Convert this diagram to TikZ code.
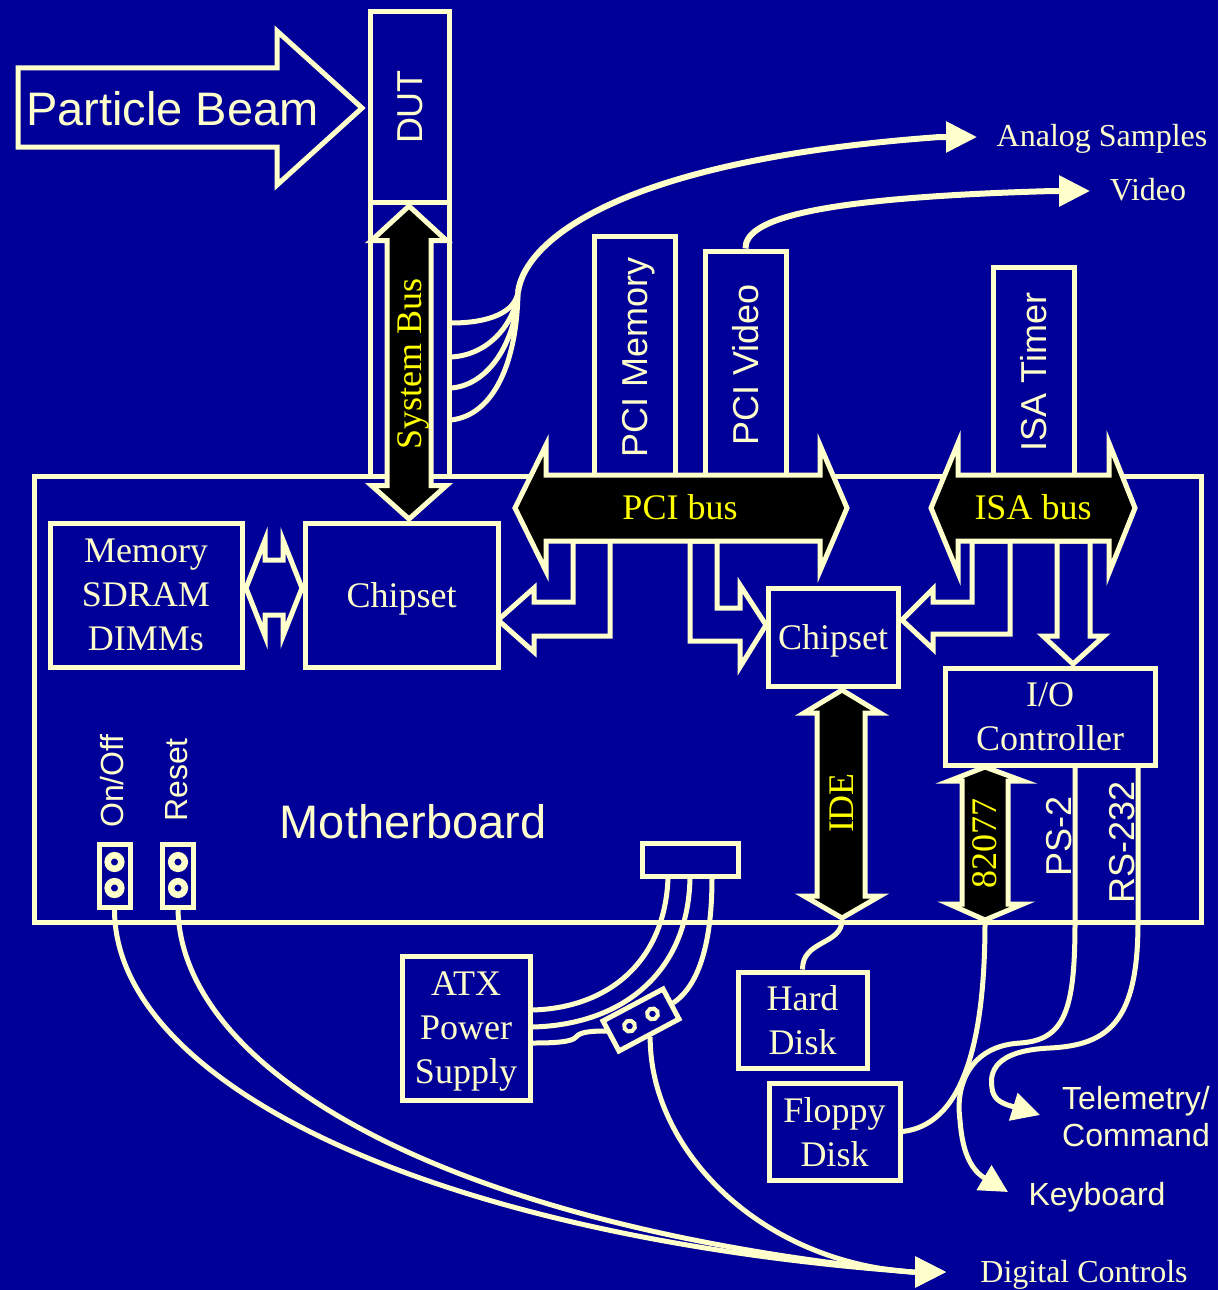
\documentclass[tikz,border=0pt]{standalone}
\usepackage{fontspec}
\setmainfont{Liberation Serif}
\newfontfamily\sansfam{Liberation Sans}
\usetikzlibrary{arrows.meta}
\definecolor{bg}{RGB}{0,0,153}
\definecolor{cream}{RGB}{255,255,204}
\definecolor{ylw}{RGB}{255,255,0}
\newcommand\fsA{\fontsize{36}{44}\selectfont}
\newcommand\fsB{\fontsize{32}{37}\selectfont}
\newcommand\fsC{\sansfam\fontsize{36}{42}\selectfont}
\newcommand\fsD{\sansfam\fontsize{32}{37}\selectfont}
\newcommand\fsE{\sansfam\fontsize{47}{54}\selectfont}
\begin{document}
\begin{tikzpicture}[x=1pt,y=-1pt,
  ln/.style={draw=cream,line width=5pt,line join=miter},
  box/.style={ln,fill=bg,text=cream,inner sep=0pt,align=center,font=\fsA,text depth=0pt},
  plainbox/.style={ln,fill=bg,inner sep=0pt},
  busshape/.style={ln,fill=black},
  hollow/.style={ln,fill=bg},
  wire/.style={draw=cream,line width=5pt},
  thickwire/.style={draw=cream,line width=6pt},
  bighead/.style={-{Triangle[length=31pt,width=30pt]}},
  smallhead/.style={-{Triangle[length=28pt,width=28pt]}},
  lbl/.style={text=cream,inner sep=0pt},
  buslbl/.style={text=ylw,inner sep=0pt,font=\fsA},
  ring/.style={draw=cream,line width=6.5pt},
  smallring/.style={draw=cream,line width=4pt}
]
% background
\fill[bg] (0,0) rectangle (1218,1290);
\useasboundingbox (0,0) rectangle (1218,1290);

% motherboard
\node[plainbox,minimum width=1167,minimum height=446] (mb) at (617.5,699) {};
\node[lbl,font=\fsE,anchor=base] (mbl) at (413,838) {Motherboard};

% particle beam
\draw[hollow] (18,68) -- (277,68) -- (277,31) -- (362,108) -- (277,185) -- (277,147) -- (18,147) -- cycle;
\node[lbl,font=\fsE,anchor=base] (pbl) at (172.5,125) {Particle Beam};

% DUT and system bus frame
\node[plainbox,minimum width=79,minimum height=190] (dut) at (409.5,107) {};
\node[lbl,font=\fsC,rotate=90,anchor=base] (dutl) at (422.5,107) {DUT};
\node[plainbox,minimum width=79,minimum height=274] (sbbox) at (409.5,339) {};

% cards
\node[plainbox,minimum width=81,minimum height=240] (pcimem) at (634.5,356) {};
\node[lbl,font=\fsC,rotate=90,anchor=base] (pcimeml) at (647.5,357) {PCI Memory};
\node[plainbox,minimum width=81,minimum height=225] (pcivid) at (745.5,363.5) {};
\node[lbl,font=\fsC,rotate=90,anchor=base] (pcividl) at (758.5,365) {PCI Video};
\node[plainbox,minimum width=81,minimum height=209] (isatim) at (1033.5,371.5) {};
\node[lbl,font=\fsC,rotate=90,anchor=base] (isatiml) at (1046.5,372) {ISA Timer};

% analog sample wires
\coordinate (w1) at (451,323);
\coordinate (w2) at (451,357);
\coordinate (w3) at (451,388);
\coordinate (w4) at (451,420);
\coordinate (merge) at (518,292);
\coordinate (asB) at (940,137);
\coordinate (asT) at (977,137);
\draw[wire] (w1) .. controls (490,323) and (515,312) .. (merge);
\draw[wire] (w2) .. controls (490,355) and (515,322) .. (merge);
\draw[wire] (w3) .. controls (490,385) and (516,340) .. (merge);
\draw[wire] (w4) .. controls (495,415) and (517,360) .. (merge);
\draw[thickwire,bighead] (merge) .. controls (525,240) and (620,160) .. (asB) -- (asT);
\node[lbl,font=\fsB,anchor=base] (asl) at (1102,146) {Analog Samples};

% video
\coordinate (vB) at (1053,191);
\coordinate (vT) at (1090,191);
\draw[thickwire,bighead] (pcivid.north) .. controls (745,222) and (800,198) .. (vB) -- (vT);
\node[lbl,font=\fsB,anchor=base] (vidl) at (1148,200) {Video};

% bus stubs
\draw[hollow] (573,541) -- (573,602) -- (534,602) -- (534,588) -- (498,620) -- (534,652) -- (534,636) -- (610,636) -- (610,541) -- cycle;
\draw[hollow] (690,541) -- (690,641) -- (740,641) -- (740,667) -- (766,625) -- (740,585) -- (740,608) -- (717,608) -- (717,541) -- cycle;
\draw[hollow] (972,541) -- (972,602) -- (933,602) -- (933,589) -- (902,620) -- (933,649) -- (933,634) -- (1010,634) -- (1010,541) -- cycle;
\draw[hollow] (1057,541) -- (1057,636) -- (1043,636) -- (1073,664) -- (1104,636) -- (1090,636) -- (1090,541) -- cycle;

% PCI bus
\draw[busshape] (515,508) -- (546,445) -- (546,475) -- (820,475) -- (820,445) -- (847,508) -- (820,571) -- (820,541) -- (546,541) -- (546,571) -- cycle;
\node[buslbl,anchor=base] (pcil) at (680,519) {PCI bus};
% ISA bus
\draw[busshape] (931,508) -- (958,443) -- (958,475) -- (1109,475) -- (1109,443) -- (1135,508) -- (1109,573) -- (1109,541) -- (958,541) -- (958,573) -- cycle;
\node[buslbl,anchor=base] (isal) at (1033,519) {ISA bus};

% system bus arrow
\draw[busshape] (409,206) -- (446.5,240.5) -- (431,240.5) -- (431,485.5) -- (446.5,485.5) -- (409,519) -- (371.5,485.5) -- (387,485.5) -- (387,240.5) -- (371.5,240.5) -- cycle;
\node[buslbl,rotate=90,anchor=base] (sbl) at (421,364) {System Bus};

% memory, chipsets, io
\node[box,minimum width=192,minimum height=144] (mem) at (146,595) {Memory\\SDRAM\\DIMMs};
\node[box,minimum width=193,minimum height=144] (cs1) at (401.5,595) {Chipset};
\node[box,minimum width=130,minimum height=98] (cs2) at (833,637) {Chipset};
\node[box,minimum width=210,minimum height=97] (io) at (1050,716.5) {I/O\\Controller};

% memory <-> chipset hollow arrow
\draw[hollow] (246,588) -- (265,540) -- (265,560) -- (283,560) -- (283,540) -- (302,588) -- (283,636) -- (283,615) -- (265,615) -- (265,636) -- cycle;

% IDE arrow
\draw[busshape] (842,690) -- (880,713) -- (865,713) -- (865,896) -- (880,896) -- (842,918) -- (804,896) -- (817,896) -- (817,713) -- (804,713) -- cycle;
\node[buslbl,rotate=90,anchor=base] (idel) at (853,803) {IDE};

% 82077 arrow
\draw[busshape] (985,767) -- (1023,781) -- (1008,781) -- (1008,904) -- (1023,904) -- (985,920) -- (949,904) -- (962,904) -- (962,781) -- (949,781) -- cycle;
\node[buslbl,rotate=90,anchor=base] (fdcl) at (996,843) {82077};

% PS-2 and RS-232 labels
\node[lbl,font=\fsC,rotate=90,anchor=base] (ps2l) at (1071,836) {PS-2};
\node[lbl,font=\fsC,rotate=90,anchor=base] (rsl) at (1134,842) {RS-232};

% On/Off and Reset
\node[plainbox,minimum width=31,minimum height=63] (onoff) at (114.5,876) {};
\node[plainbox,minimum width=31,minimum height=63] (reset) at (178,876) {};
\draw[ring] (114.5,862) circle[radius=6.8pt];
\draw[ring] (114.5,888) circle[radius=6.8pt];
\draw[ring] (178,862) circle[radius=6.8pt];
\draw[ring] (178,888) circle[radius=6.8pt];
\node[lbl,font=\fsD,rotate=90,anchor=base] (onoffl) at (123,781) {On/Off};
\node[lbl,font=\fsD,rotate=90,anchor=base] (resetl) at (187,780) {Reset};

% power connector
\node[plainbox,minimum width=96,minimum height=33] (tc) at (690,859.5) {};

% ATX, disks
\node[box,minimum width=128,minimum height=144] (atx) at (466,1028) {ATX\\Power\\Supply};
\node[box,minimum width=129,minimum height=96] (hd) at (802.5,1020) {Hard\\Disk};
\node[box,minimum width=131,minimum height=97] (fd) at (834.5,1131.5) {Floppy\\Disk};

% small rotated switch connector
\node[plainbox,minimum width=68,minimum height=34,rotate=28] (conn) at (641,1020) {};
\begin{scope}[shift={(641,1020)},rotate=28]
  \draw[smallring] (-13,0) circle[radius=5.5pt];
  \draw[smallring] (13,0) circle[radius=5.5pt];
\end{scope}

% power wires
\coordinate (t1) at (668,878);
\coordinate (t2) at (690,878);
\coordinate (t3) at (712,878);
\coordinate (a1) at (532,1010);
\coordinate (a2) at (532,1027);
\coordinate (a3) at (532,1043);
\coordinate (cin) at (607,1031);
\draw[wire] (t1) .. controls (665,960) and (610,1008) .. (a1);
\draw[wire] (t2) .. controls (688,975) and (620,1025) .. (a2);
\draw[wire] (t3) .. controls (712,940) and (700,985) .. (conn.east);
\draw[wire] (a3) .. controls (555,1043) and (572,1042) .. (576,1037) .. controls (580,1032) and (590,1031) .. (cin);

% digital controls
\coordinate (dcB) at (912,1272);
\coordinate (dcT) at (946,1272);
\draw[wire,bighead] (onoff.south) .. controls (115,1080) and (420,1235) .. (dcB) -- (dcT);
\draw[wire,bighead] (reset.south) .. controls (182,1070) and (440,1225) .. (dcB) -- (dcT);
\draw[wire,bighead] (conn.south) .. controls (650,1150) and (760,1262) .. (dcB) -- (dcT);
\node[lbl,font=\fsB,anchor=base] (dcl) at (1084,1282) {Digital Controls};

% IDE to hard disk
\coordinate (ideB) at (842,920);
\draw[wire] (ideB) .. controls (842,945) and (802,940) .. (hd.north);

% 82077 to floppy
\coordinate (fdcB) at (985,922);
\draw[wire] (fdcB) .. controls (985,1050) and (960,1125) .. (fd.east);

% PS-2 to keyboard
\coordinate (ps2top) at (1075,767);
\coordinate (kbB) at (983,1177);
\coordinate (kbT) at (1008,1192);
\draw[wire,smallhead] (ps2top) -- (1075,922) .. controls (1075,1010) and (1065,1040) .. (1020,1043) .. controls (970,1046) and (955,1085) .. (960,1120) .. controls (962,1150) and (970,1168) .. (kbB) -- (kbT);
\node[lbl,font=\fsD,anchor=base] (kbl) at (1097,1205) {Keyboard};

% RS-232 to telemetry
\coordinate (rstop) at (1138,767);
\coordinate (telB) at (1011,1106);
\coordinate (telT) at (1040,1115);
\draw[wire,smallhead] (rstop) -- (1138,922) .. controls (1138,1020) and (1110,1045) .. (1050,1048) .. controls (1005,1050) and (988,1065) .. (992,1088) .. controls (993,1098) and (1000,1103) .. (telB) -- (telT);
\node[lbl,font=\fsD,align=left,anchor=west,text depth=0pt] (tell) at (1062,1116) {Telemetry/\\Command};
\end{tikzpicture}
\end{document}
